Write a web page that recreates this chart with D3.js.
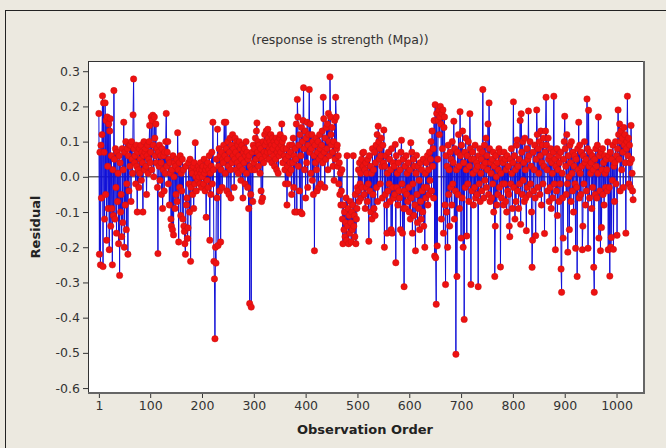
<!DOCTYPE html>
<html>
<head>
<meta charset="utf-8">
<script src="https://cdn.jsdelivr.net/npm/d3@7/dist/d3.min.js"></script>
<style>
html,body{margin:0;padding:0;background:#ECE9E0;}
svg{display:block;}
</style>
</head>
<body>
<script>
// ---- Data ----
const titleText = "(response is strength (Mpa))";
const xLabel = "Observation Order";
const yLabel = "Residual";
const xTicks = [1, 100, 200, 300, 400, 500, 600, 700, 800, 900, 1000];
const yTicks = [-0.6, -0.5, -0.4, -0.3, -0.2, -0.1, 0.0, 0.1, 0.2, 0.3];
const residuals = [
0.18,-0.22,0.07,-0.25,0.09,-0.06,0.12,0.23,-0.255,0.21,
0.07,-0.12,0.21,-0.05,0.16,-0.18,0.17,0.03,-0.09,0.15,
-0.207,0.13,0.165,-0.14,0.06,-0.09,-0.25,0.02,-0.11,0.245,
0.05,-0.12,0.08,-0.03,-0.16,0.07,-0.07,0.01,-0.19,0.06,
-0.28,0.04,-0.10,-0.05,-0.17,0.08,-0.13,0.02,0.155,-0.2,
0.07,-0.08,0.10,-0.15,-0.02,0.08,-0.22,0.06,-0.04,0.09,
0.03,0.09,-0.07,0.10,0.05,0.01,0.176,0.278,0.08,0.04,
0.06,-0.02,0.09,0.03,-0.10,0.07,0.02,-0.03,0.08,0.01,
0.05,0.09,-0.01,0.07,0.04,-0.10,0.06,0.10,0.02,0.07,
0.08,0.03,-0.05,0.06,0.09,0.01,0.05,0.10,0.146,0.04,
0.07,0.17,0.02,0.16,0.175,0.09,0.00,0.17,0.11,0.06,
0.15,0.04,0.08,-0.03,-0.218,0.07,0.03,0.09,-0.01,0.06,
0.04,-0.05,0.08,-0.09,0.02,0.06,-0.04,0.07,0.01,0.10,
0.18,0.03,0.07,0.10,-0.02,0.05,-0.08,0.04,0.01,-0.12,
-0.14,0.02,-0.15,0.06,-0.165,0.00,0.04,-0.09,0.03,-0.05,
0.05,-0.07,0.125,0.02,-0.185,0.04,-0.03,0.06,-0.11,0.01,
-0.04,0.05,-0.12,0.02,-0.14,-0.155,-0.19,-0.22,0.03,-0.08,
-0.06,-0.175,-0.145,0.04,-0.02,-0.10,0.05,-0.24,-0.03,0.02,
0.01,-0.05,0.03,-0.09,0.04,-0.02,0.097,0.00,-0.04,0.02,
0.01,-0.01,0.03,0.00,0.02,-0.02,0.04,0.01,-0.03,0.02,
0.00,0.03,-0.02,0.05,0.01,-0.04,0.02,-0.115,0.03,-0.01,
0.04,-0.03,0.02,0.06,-0.18,0.01,-0.05,0.03,0.07,-0.02,
0.155,0.02,-0.24,-0.29,-0.46,-0.2,-0.245,0.05,-0.06,0.135,
-0.195,0.03,0.08,-0.04,0.06,-0.185,0.02,0.07,-0.03,0.05,
0.04,0.09,0.155,0.06,0.01,0.155,0.08,-0.04,0.05,0.10,
0.03,-0.05,0.07,0.11,0.02,-0.06,0.09,0.04,0.12,0.06,
0.08,-0.03,0.05,0.11,0.07,0.02,0.10,0.04,0.09,0.01,
0.06,0.10,0.03,0.08,-0.01,0.05,0.09,0.02,-0.06,0.07,
0.04,0.08,-0.02,0.06,0.10,0.01,0.07,-0.03,0.05,-0.09,
0.06,-0.36,0.03,-0.05,-0.37,0.02,0.07,-0.07,0.09,0.04,
0.08,0.02,0.11,0.05,0.13,0.153,0.07,0.10,0.03,0.09,
0.06,0.01,0.08,-0.04,-0.07,0.05,-0.06,0.10,0.04,0.07,
0.12,0.09,0.06,0.13,0.10,0.07,0.135,0.11,0.05,0.08,
0.10,0.07,0.12,0.09,0.04,0.11,0.08,0.06,0.10,0.03,
0.09,0.05,0.11,0.02,0.07,0.10,0.01,0.08,0.06,0.11,
0.12,0.07,0.09,0.15,0.10,0.04,0.08,0.11,0.06,0.02,
-0.02,0.05,0.08,-0.08,0.03,-0.02,0.06,0.01,0.09,0.04,
0.07,0.02,-0.05,0.09,0.04,0.11,-0.03,0.06,-0.10,0.08,
0.05,0.15,-0.10,0.22,0.17,0.03,0.09,-0.04,0.12,-0.10,
0.06,0.14,-0.105,0.10,0.16,0.253,0.08,0.02,0.13,-0.06,
0.11,0.04,0.155,-0.03,0.09,0.12,0.248,0.07,0.15,0.01,
0.08,0.12,-0.01,0.10,-0.05,0.06,-0.21,0.09,0.04,0.11,
0.02,-0.04,0.07,0.10,-0.03,0.05,0.12,0.08,-0.02,0.06,
0.09,0.13,0.04,0.226,0.165,0.07,-0.03,0.11,0.05,0.14,
0.08,0.15,0.02,0.18,0.10,0.06,0.284,0.17,0.12,0.09,
0.14,0.07,0.03,0.10,-0.01,0.16,0.05,0.226,0.17,0.08,
0.09,0.03,0.06,-0.02,0.04,-0.05,0.01,-0.08,-0.04,0.02,
-0.12,-0.19,-0.08,-0.15,-0.10,-0.17,-0.13,-0.06,-0.18,0.06,
-0.14,-0.09,-0.19,-0.11,-0.16,-0.07,-0.13,-0.185,-0.10,-0.15,
-0.08,0.06,-0.14,-0.11,-0.17,-0.05,-0.19,-0.12,-0.09,-0.03,
-0.04,0.02,-0.07,0.04,-0.02,0.01,-0.06,0.05,-0.03,0.068,
0.03,0.07,-0.05,0.02,-0.09,0.04,-0.03,0.01,-0.07,0.05,
-0.02,-0.183,0.06,-0.04,0.03,-0.10,0.01,-0.12,0.08,-0.05,
0.02,-0.09,0.07,-0.11,0.04,0.09,-0.03,0.12,-0.07,0.144,
0.10,0.05,0.08,-0.02,0.06,0.11,0.03,-0.06,0.09,0.04,
0.133,-0.20,0.03,-0.05,0.06,-0.08,-0.16,0.01,-0.04,0.07,
-0.02,0.05,-0.07,0.02,-0.15,0.08,-0.16,-0.03,0.04,-0.06,
0.03,-0.05,0.092,-0.244,0.06,-0.03,0.01,-0.08,0.04,-0.04,
-0.06,0.02,-0.15,0.07,0.104,-0.02,-0.16,0.05,-0.09,-0.312,
-0.04,0.03,-0.09,0.06,-0.05,0.01,-0.07,0.04,-0.03,-0.10,
0.02,-0.12,0.097,-0.06,0.07,-0.16,-0.02,0.05,-0.11,0.03,
-0.08,-0.21,0.01,0.061,-0.05,-0.13,0.03,-0.09,-0.01,-0.15,
0.04,-0.07,-0.12,0.02,-0.04,-0.10,0.05,-0.14,-0.03,-0.20,
0.01,-0.06,0.04,-0.03,0.06,-0.08,0.02,-0.05,0.07,-0.01,
0.05,0.10,-0.04,0.13,0.03,0.08,-0.06,0.16,-0.225,0.205,
-0.23,-0.362,0.18,-0.196,0.05,0.16,0.19,0.12,0.17,0.20,
0.15,-0.12,0.18,0.08,0.19,-0.16,0.14,0.17,-0.08,-0.306,
0.06,-0.10,0.03,-0.20,0.09,-0.05,0.02,-0.14,0.07,-0.03,
0.05,-0.08,0.10,-0.02,0.04,0.158,-0.12,0.08,-0.04,-0.504,
0.02,-0.283,0.07,-0.05,0.12,0.03,-0.09,0.185,0.06,-0.174,
0.09,-0.06,0.13,-0.20,0.04,-0.405,0.07,-0.03,0.11,0.02,
-0.168,0.06,-0.02,0.10,-0.07,0.03,0.179,0.08,-0.306,0.05,
-0.04,0.07,0.01,-0.08,0.05,-0.03,0.09,-0.06,0.02,0.04,
-0.05,0.03,-0.312,0.06,-0.02,0.08,-0.07,0.01,0.05,-0.04,
0.07,0.248,0.03,-0.06,0.09,-0.01,0.04,0.11,-0.03,0.06,
0.02,0.15,-0.05,0.21,0.08,-0.07,0.04,0.01,-0.06,0.05,
-0.02,0.07,-0.10,0.03,-0.283,-0.14,0.06,0.00,-0.08,0.04,
-0.05,0.02,0.08,-0.03,0.07,-0.256,0.01,-0.06,0.05,-0.02,
0.04,-0.08,0.07,-0.02,0.05,-0.07,0.02,-0.10,0.06,-0.04,
0.03,-0.05,-0.14,-0.17,0.05,-0.02,0.08,0.01,-0.09,0.04,
0.213,-0.03,0.06,-0.12,0.02,-0.07,0.09,0.105,-0.04,0.03,
-0.09,0.05,-0.02,0.16,-0.135,0.179,0.07,-0.05,0.10,-0.01,
0.04,-0.07,0.11,0.02,-0.06,-0.153,0.08,-0.03,0.05,0.187,
0.06,-0.05,0.10,-0.02,0.03,-0.10,-0.257,-0.18,0.07,-0.04,
0.02,0.09,-0.06,-0.167,0.05,0.19,0.12,-0.03,0.08,0.01,
0.10,-0.05,0.06,0.13,-0.08,0.04,0.09,-0.02,0.11,0.03,
-0.161,0.07,0.13,0.226,0.09,0.02,-0.04,0.11,0.05,-0.07,
0.06,-0.03,0.08,-0.09,0.04,0.01,-0.06,0.07,0.229,-0.02,
0.05,-0.207,0.03,-0.04,0.08,-0.11,0.02,0.06,-0.07,0.04,
-0.02,0.07,-0.262,-0.328,0.01,-0.06,-0.174,0.05,0.10,0.172,
0.08,0.03,-0.05,0.12,-0.02,-0.214,0.06,0.00,-0.15,0.09,
0.04,-0.07,0.10,0.01,-0.04,0.07,-0.10,0.03,0.06,-0.02,
-0.203,0.05,-0.03,-0.283,0.08,0.02,0.155,-0.06,0.09,0.01,
-0.05,0.07,0.03,-0.207,-0.14,0.06,-0.02,0.10,0.04,-0.08,
0.05,-0.04,0.221,0.08,-0.203,0.189,0.03,-0.06,0.07,0.01,
0.04,-0.09,0.06,-0.03,0.02,-0.257,-0.328,0.05,-0.05,0.08,
0.03,-0.06,0.09,0.01,0.17,-0.174,0.06,-0.04,-0.21,0.07,
-0.144,0.02,0.08,-0.05,0.04,-0.08,0.06,0.01,-0.03,0.05,
0.02,-0.04,0.099,-0.207,0.06,-0.03,-0.282,0.07,-0.2,-0.172,
0.05,-0.01,0.09,-0.206,0.03,-0.07,0.04,0.10,-0.02,0.06,
-0.166,0.08,0.19,0.12,0.05,0.15,-0.04,0.10,0.13,0.02,
0.11,0.07,-0.03,0.14,0.09,0.12,0.04,-0.16,0.08,0.10,
0.229,0.06,0.11,-0.02,0.09,0.04,-0.03,0.146,0.05,0.01,
-0.04,-0.065
];

// ---- Layout ----
const W = 666, H = 448;
const plot = {left: 88, top: 61, right: 644, bottom: 393};

const svg = d3.select("body").append("svg").attr("width", W).attr("height", H);

svg.append("rect").attr("x",0).attr("y",0).attr("width",W).attr("height",H).attr("fill","#ECE9E0");
// outer frame
svg.append("rect").attr("x",5.5).attr("y",10.5).attr("width",W+20).attr("height",H+20)
  .attr("fill","none").attr("stroke","#222").attr("stroke-width",1);

const x = d3.scaleLinear().domain([-20, 1053]).range([plot.left, plot.right]);
const y = d3.scaleLinear().domain([-0.614, 0.329]).range([plot.bottom, plot.top]);

// plot area
svg.append("rect").attr("x",plot.left).attr("y",plot.top)
  .attr("width",plot.right-plot.left).attr("height",plot.bottom-plot.top).attr("fill","#fff");

const font = "'DejaVu Sans', Verdana, sans-serif";

// axes
const xAxis = d3.axisBottom(x).tickValues(xTicks).tickSize(5).tickPadding(3).tickFormat(d3.format("d"));
const yAxis = d3.axisLeft(y).tickValues(yTicks).tickSize(5).tickPadding(3).tickFormat(d => d.toFixed(1));

const gx = svg.append("g").attr("transform",`translate(0,${plot.bottom})`).call(xAxis);
const gy = svg.append("g").attr("transform",`translate(${plot.left},0)`).call(yAxis);
[gx, gy].forEach(g => {
  g.select(".domain").remove();
  g.selectAll(".tick line").attr("stroke","#333");
  g.selectAll(".tick text").attr("fill","#333").style("font-family",font).style("font-size","12.5px");
});

// zero reference line
svg.append("line").attr("x1",plot.left).attr("x2",plot.right)
  .attr("y1",y(0)).attr("y2",y(0)).attr("stroke","#222").attr("stroke-width",1);

// series
const pts = residuals.map((r,i) => ({o: i+1, r}));
const line = d3.line().x(d => x(d.o)).y(d => y(d.r));
svg.append("path").datum(pts).attr("d",line).attr("fill","none")
  .attr("stroke","#1010d8").attr("stroke-width",1);

svg.append("g").selectAll("circle").data(pts).join("circle")
  .attr("cx", d => x(d.o)).attr("cy", d => y(d.r)).attr("r", 3.2)
  .attr("fill","#ee1111").attr("stroke","#c81010").attr("stroke-width",0.5);

// plot border (dark top/left, gray shadow right/bottom)
svg.append("line").attr("x1",plot.left+0.5).attr("x2",plot.left+0.5).attr("y1",plot.top).attr("y2",plot.bottom).attr("stroke","#333");
svg.append("line").attr("x1",plot.left).attr("x2",plot.right).attr("y1",plot.top+0.5).attr("y2",plot.top+0.5).attr("stroke","#333");
svg.append("line").attr("x1",plot.right).attr("x2",plot.right).attr("y1",plot.top).attr("y2",plot.bottom+1).attr("stroke","#666").attr("stroke-width",2);
svg.append("line").attr("x1",plot.left).attr("x2",plot.right+1).attr("y1",plot.bottom).attr("y2",plot.bottom).attr("stroke","#666").attr("stroke-width",2);

// title & labels
svg.append("text").attr("x",340).attr("y",44).attr("text-anchor","middle")
  .style("font-family",font).style("font-size","12.5px").attr("fill","#333").text(titleText);
svg.append("text").attr("x",365).attr("y",434).attr("text-anchor","middle")
  .style("font-family",font).style("font-size","13px").style("font-weight","bold").attr("fill","#222").text(xLabel);
svg.append("text").attr("transform","translate(40,227) rotate(-90)").attr("text-anchor","middle")
  .style("font-family",font).style("font-size","13px").style("font-weight","bold").attr("fill","#222").text(yLabel);
</script>
</body>
</html>
